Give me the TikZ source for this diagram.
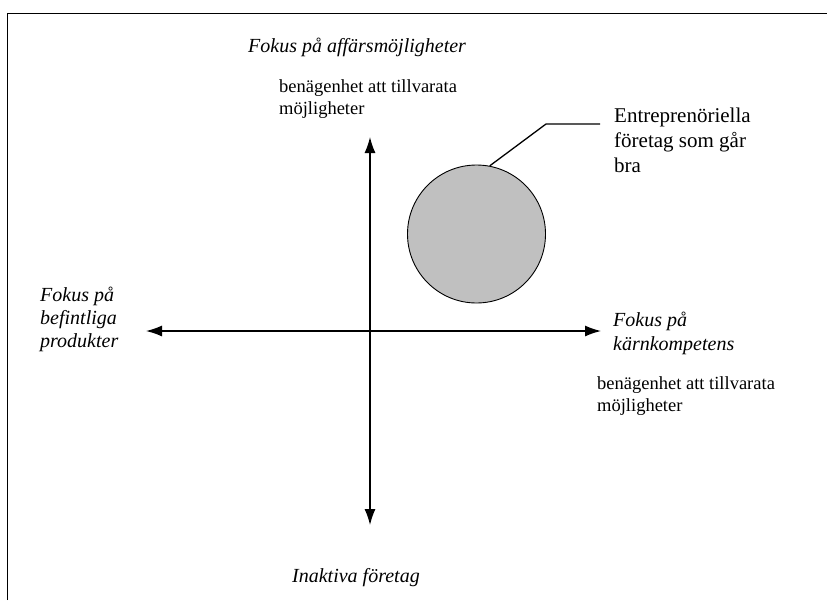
\documentclass[tikz,border=0pt]{standalone}
\usepackage{fontspec}
\setmainfont{Liberation Serif}
\usetikzlibrary{arrows.meta}
\begin{document}
\begin{tikzpicture}[x=1pt,y=-1pt,
  itlab/.style={anchor=base west,inner sep=0pt,font=\fontsize{20}{23}\selectfont\itshape},
  lab/.style={anchor=base west,inner sep=0pt,font=\fontsize{18.5}{22}\selectfont},
  biglab/.style={anchor=base west,inner sep=0pt,font=\fontsize{21}{25}\selectfont},
  axis/.style={line width=1.3pt,{Latex[length=16pt,width=11pt]}-{Latex[length=16pt,width=11pt]}},
  blob/.style={circle,draw,line width=0.9pt,fill={rgb,255:red,192;green,192;blue,192},minimum size=138pt,inner sep=0pt}
]
\useasboundingbox (0,0) rectangle (827,600);
\draw[line width=1pt] (7,600) -- (7,13) -- (827,13);

\coordinate (vt) at (370,137);
\coordinate (vb) at (370,525);
\coordinate (hl) at (146,331);
\coordinate (hr) at (601,331);
\draw[axis] (vb) -- (vt);
\draw[axis] (hl) -- (hr);

\node[blob] (c) at (476.5,234) {};
\coordinate (lk) at (546,124);
\coordinate (le) at (600,124);
\draw[line width=1.3pt] (c.79) -- (lk) -- (le);

\node[itlab] (t1) at (248,52) {Fokus på affärsmöjligheter};
\node[lab] (t2a) at (279,92) {benägenhet att tillvarata};
\node[lab] (t2b) at (279,114) {möjligheter};

\node[biglab] (e1) at (614,122) {Entreprenöriella};
\node[biglab] (e2) at (614,147) {företag som går};
\node[biglab] (e3) at (614,172) {bra};

\node[itlab] (l1) at (40,301) {Fokus på};
\node[itlab] (l2) at (40,324) {befintliga};
\node[itlab] (l3) at (40,347) {produkter};

\node[itlab] (r1) at (613,326) {Fokus på};
\node[itlab] (r2) at (613,350) {kärnkompetens};
\node[lab] (r3) at (597,389) {benägenhet att tillvarata};
\node[lab] (r4) at (597,411) {möjligheter};

\node[itlab] (b1) at (292,582) {Inaktiva företag};
\end{tikzpicture}
\end{document}
